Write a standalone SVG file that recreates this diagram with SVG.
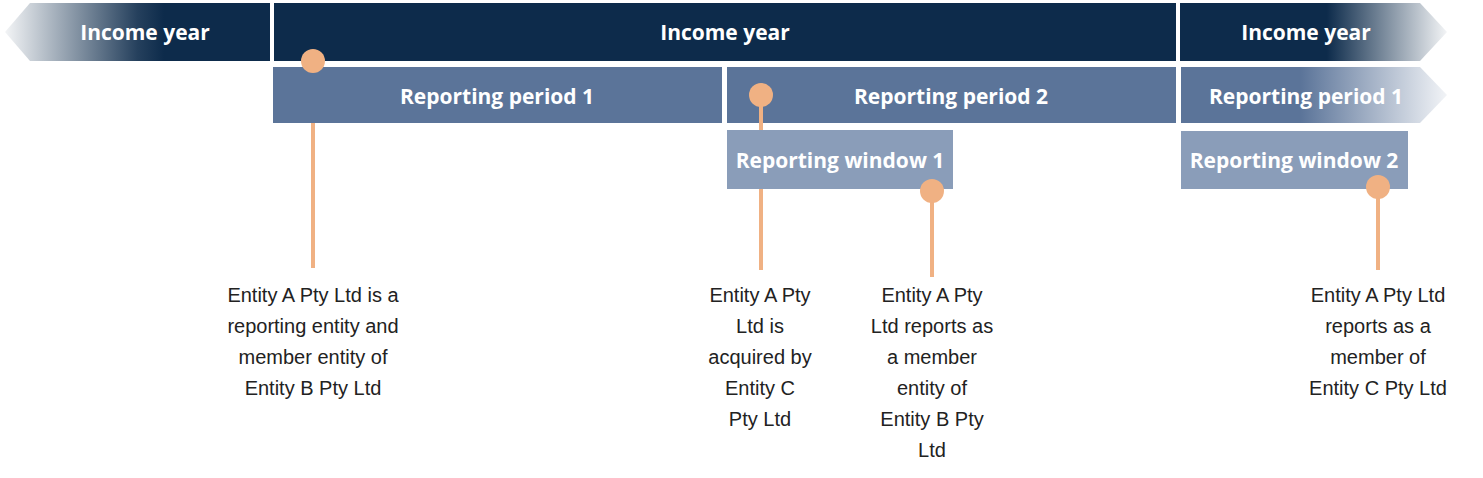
<svg xmlns="http://www.w3.org/2000/svg" width="1483" height="478" viewBox="0 0 1483 478">
<style>
.h{font-family:"Open Sans",sans-serif;font-weight:bold;font-size:21px;fill:#fff;text-anchor:middle}
.t{font-family:"Liberation Sans",Arial,sans-serif;font-size:20px;fill:#222;text-anchor:middle}
.ln{stroke:#f0b183;stroke-width:4}
.dot{fill:#f0b183}
</style>
<defs>
<linearGradient id="gl" x1="0" x2="1"><stop offset="0" stop-color="#0d2b4b" stop-opacity="0.05"/><stop offset="0.5" stop-color="#0d2b4b" stop-opacity="0.9"/><stop offset="0.6" stop-color="#0d2b4b"/></linearGradient>
<linearGradient id="gr" x1="0" x2="1"><stop offset="0" stop-color="#0d2b4b"/><stop offset="0.55" stop-color="#0d2b4b"/><stop offset="1" stop-color="#0d2b4b" stop-opacity="0.05"/></linearGradient>
<linearGradient id="gp" x1="0" x2="1"><stop offset="0" stop-color="#5b7499"/><stop offset="0.45" stop-color="#5b7499"/><stop offset="1" stop-color="#5b7499" stop-opacity="0.08"/></linearGradient>
</defs>
<g id="connectors">
<line class="ln" x1="313" y1="61" x2="313" y2="268"/>
<line class="ln" x1="761" y1="95" x2="761" y2="270"/>
<line class="ln" x1="932" y1="191" x2="932" y2="277"/>
<line class="ln" x1="1378" y1="187" x2="1378" y2="270"/>
</g>
<g id="income-year-left"><polygon points="5,32 30,3 270,3 270,61 30,61" fill="url(#gl)"/><text class="h" x="145" y="40">Income year</text></g>
<g id="income-year-main"><rect x="274" y="3" width="902" height="58" fill="#0d2b4b"/><text class="h" x="725" y="40">Income year</text></g>
<g id="income-year-right"><polygon points="1180,3 1420,3 1447,32 1420,61 1180,61" fill="url(#gr)"/><text class="h" x="1306" y="40">Income year</text></g>
<g id="period1"><rect x="273" y="67" width="449" height="56" fill="#5b7499"/><text class="h" x="497" y="104">Reporting period 1</text></g>
<g id="period2"><rect x="727" y="67" width="449" height="56" fill="#5b7499"/><text class="h" x="951" y="104">Reporting period 2</text></g>
<g id="period1-next"><polygon points="1181,67 1420,67 1447,95 1420,123 1181,123" fill="url(#gp)"/><text class="h" x="1306" y="104">Reporting period 1</text></g>
<line class="ln" x1="761" y1="95" x2="761" y2="130"/>
<g id="window1"><rect x="727" y="130" width="226" height="59" fill="#8a9db9"/><text class="h" x="840" y="168">Reporting window 1</text></g>
<g id="window2"><rect x="1181" y="131" width="227" height="58" fill="#8a9db9"/><text class="h" x="1294" y="168">Reporting window 2</text></g>
<g id="dots">
<circle class="dot" cx="313" cy="61" r="12"/>
<circle class="dot" cx="761" cy="95" r="12"/>
<circle class="dot" cx="932" cy="191" r="12"/>
<circle class="dot" cx="1378" cy="187" r="12"/>
</g>
<g id="note-a"><text class="t" x="313" y="302">Entity A Pty Ltd is a</text><text class="t" x="313" y="333">reporting entity and</text><text class="t" x="313" y="364">member entity of</text><text class="t" x="313" y="395">Entity B Pty Ltd</text></g>
<g id="note-b"><text class="t" x="760" y="302">Entity A Pty</text><text class="t" x="760" y="333">Ltd is</text><text class="t" x="760" y="364">acquired by</text><text class="t" x="760" y="395">Entity C</text><text class="t" x="760" y="426">Pty Ltd</text></g>
<g id="note-c"><text class="t" x="932" y="302">Entity A Pty</text><text class="t" x="932" y="333">Ltd reports as</text><text class="t" x="932" y="364">a member</text><text class="t" x="932" y="395">entity of</text><text class="t" x="932" y="426">Entity B Pty</text><text class="t" x="932" y="457">Ltd</text></g>
<g id="note-d"><text class="t" x="1378" y="302">Entity A Pty Ltd</text><text class="t" x="1378" y="333">reports as a</text><text class="t" x="1378" y="364">member of</text><text class="t" x="1378" y="395">Entity C Pty Ltd</text></g>
</svg>
